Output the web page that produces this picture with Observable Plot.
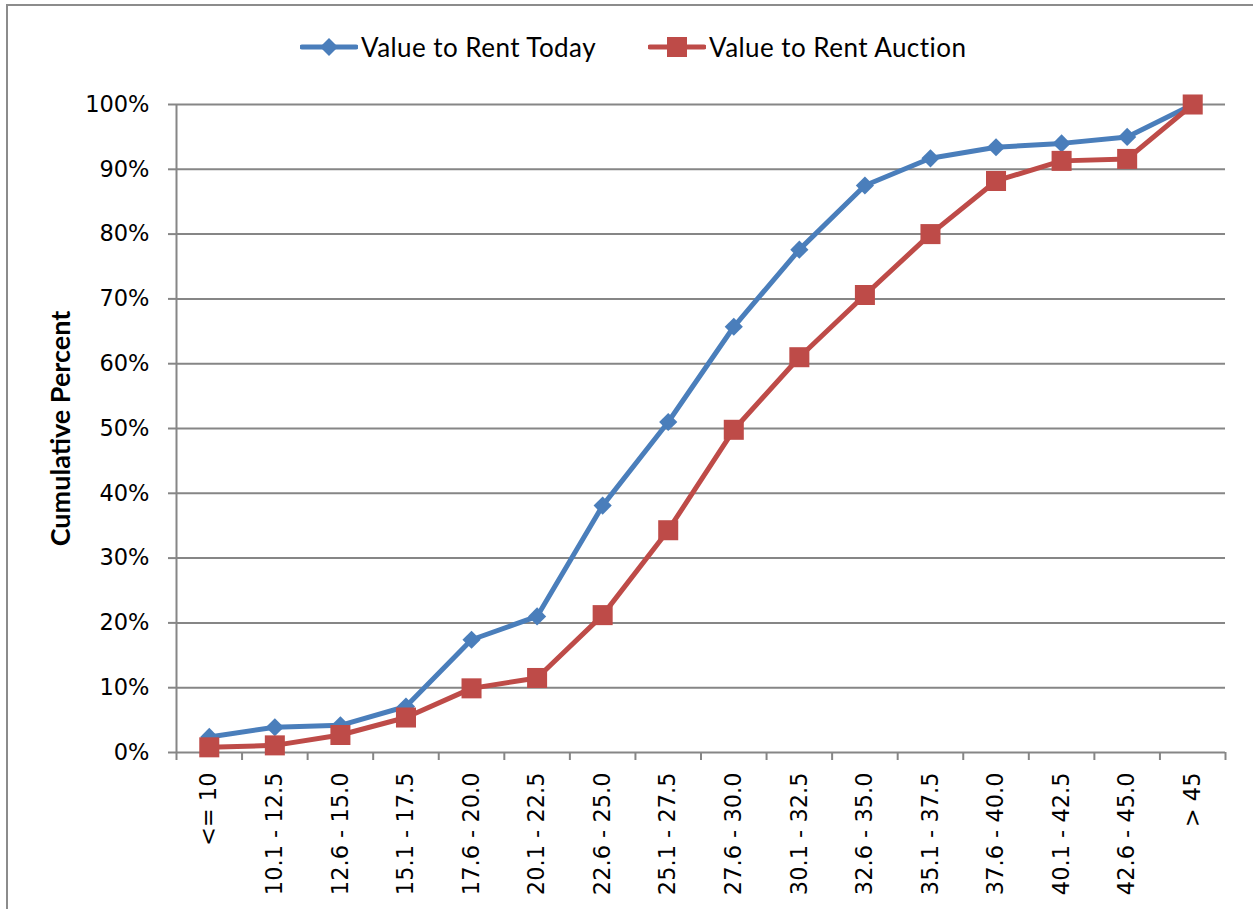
<!DOCTYPE html>
<html><head><meta charset="utf-8">
<script src="https://cdn.jsdelivr.net/npm/d3@7"></script>
<script src="https://cdn.jsdelivr.net/npm/@observablehq/plot@0.6"></script>
<style>
body{margin:0;background:#fff;}
#wrap{position:relative;width:1253px;height:909px;overflow:hidden;background:#fff;}
#chart{position:absolute;left:0;top:0;}
#frame{position:absolute;left:6px;top:4px;width:1400px;height:1100px;border:2px solid #8c8c8c;pointer-events:none;}
#legend{position:absolute;top:30px;left:0;width:1253px;height:34px;font-family:Lato,"Open Sans",sans-serif;font-size:26px;letter-spacing:0.45px;color:#000;}
.item{position:absolute;top:0;height:34px;display:flex;align-items:center;white-space:nowrap;}
.item svg{margin-right:3px;}
g[aria-label="y-axis label"] text{font-family:Lato,"Open Sans",sans-serif;font-weight:bold;font-size:27px;}
</style></head><body>
<div id="wrap"><div id="chart"></div><div id="frame"></div><div id="legend"></div></div>
<script>
const categories = ["<= 10","10.1 - 12.5","12.6 - 15.0","15.1 - 17.5","17.6 - 20.0","20.1 - 22.5","22.6 - 25.0","25.1 - 27.5","27.6 - 30.0","30.1 - 32.5","32.6 - 35.0","35.1 - 37.5","37.6 - 40.0","40.1 - 42.5","42.6 - 45.0","> 45"];
const todayValues = [0.024,0.039,0.042,0.071,0.174,0.210,0.381,0.510,0.657,0.776,0.875,0.917,0.934,0.940,0.950,1.000];
const auctionValues = [0.008,0.011,0.027,0.054,0.099,0.115,0.212,0.343,0.498,0.610,0.706,0.800,0.882,0.913,0.916,1.000];
const yTicks = [0,0.1,0.2,0.3,0.4,0.5,0.6,0.7,0.8,0.9,1.0];
const seriesNames = ["Value to Rent Today","Value to Rent Auction"];
const seriesColors = ["#4a7ebb","#be4b48"];
const seriesSymbols = ["diamond2","square"];

const data = [];
categories.forEach((c,i)=>{ data.push({i, cat:c, value:todayValues[i], series:seriesNames[0]}); });
categories.forEach((c,i)=>{ data.push({i, cat:c, value:auctionValues[i], series:seriesNames[1]}); });
const boundaries = categories.map((c,i)=>i-0.5).concat([categories.length-0.5]);
const centers = categories.map((c,i)=>i);
const grid = "#868686";

const chart = Plot.plot({
  width:1253, height:909,
  marginLeft:176, marginRight:28, marginTop:104, marginBottom:157,
  style:{fontFamily:"'DejaVu Sans', Verdana, sans-serif", color:"#000", background:"transparent", overflow:"visible"},
  x:{type:"linear", domain:[-0.5, categories.length-0.5]},
  y:{domain:[0,1]},
  color:{domain:seriesNames, range:seriesColors},
  symbol:{domain:seriesNames, range:seriesSymbols},
  marks:[
    Plot.ruleY(yTicks.filter(t=>t>0), {stroke:grid, strokeWidth:2}),
    Plot.ruleX([-0.5], {stroke:grid, strokeWidth:2}),
    Plot.ruleY([0], {stroke:grid, strokeWidth:2}),
    Plot.axisY({ticks:yTicks, tickFormat:d3.format(".0%"), tickSize:8, tickPadding:19, fontSize:22.5, stroke:grid, strokeWidth:2, fill:"#000",
      label:"Cumulative Percent", labelAnchor:"center", labelArrow:"none", labelOffset:126}),
    Plot.axisX({ticks:boundaries, tickFormat:()=>"", tickSize:8, stroke:grid, strokeWidth:2, label:null}),
    Plot.text(centers, {x:d=>d, text:d=>categories[d], frameAnchor:"bottom", rotate:-90, textAnchor:"end", lineAnchor:"middle", dy:20, fontSize:22.5, fill:"#000"}),
    Plot.line(data, {x:"i", y:"value", z:"series", stroke:"series", strokeWidth:5}),
    Plot.dot(data.filter(d=>d.series===seriesNames[0]), {x:"i", y:"value", symbol:"series", fill:"series", r:8.2}),
    Plot.dot(data.filter(d=>d.series===seriesNames[1]), {x:"i", y:"value", symbol:"series", fill:"series", r:11.3})
  ]
});
document.getElementById("chart").appendChild(chart);

// legend
const legend = document.getElementById("legend");
const legendLeft = [300, 648];
seriesNames.forEach((name,k)=>{
  const item = document.createElement("div");
  item.className = "item";
  item.style.left = legendLeft[k]+"px";
  const marker = k===0
    ? `<polygon points="29,8 38,17 29,26 20,17" fill="${seriesColors[k]}"/>`
    : `<rect x="19" y="7" width="20" height="20" fill="${seriesColors[k]}"/>`;
  item.innerHTML = `<svg width="58" height="34"><line x1="2" y1="17" x2="56" y2="17" stroke="${seriesColors[k]}" stroke-width="5" stroke-linecap="round"/>${marker}</svg><span>${name}</span>`;
  legend.appendChild(item);
});
</script>
</body></html>
